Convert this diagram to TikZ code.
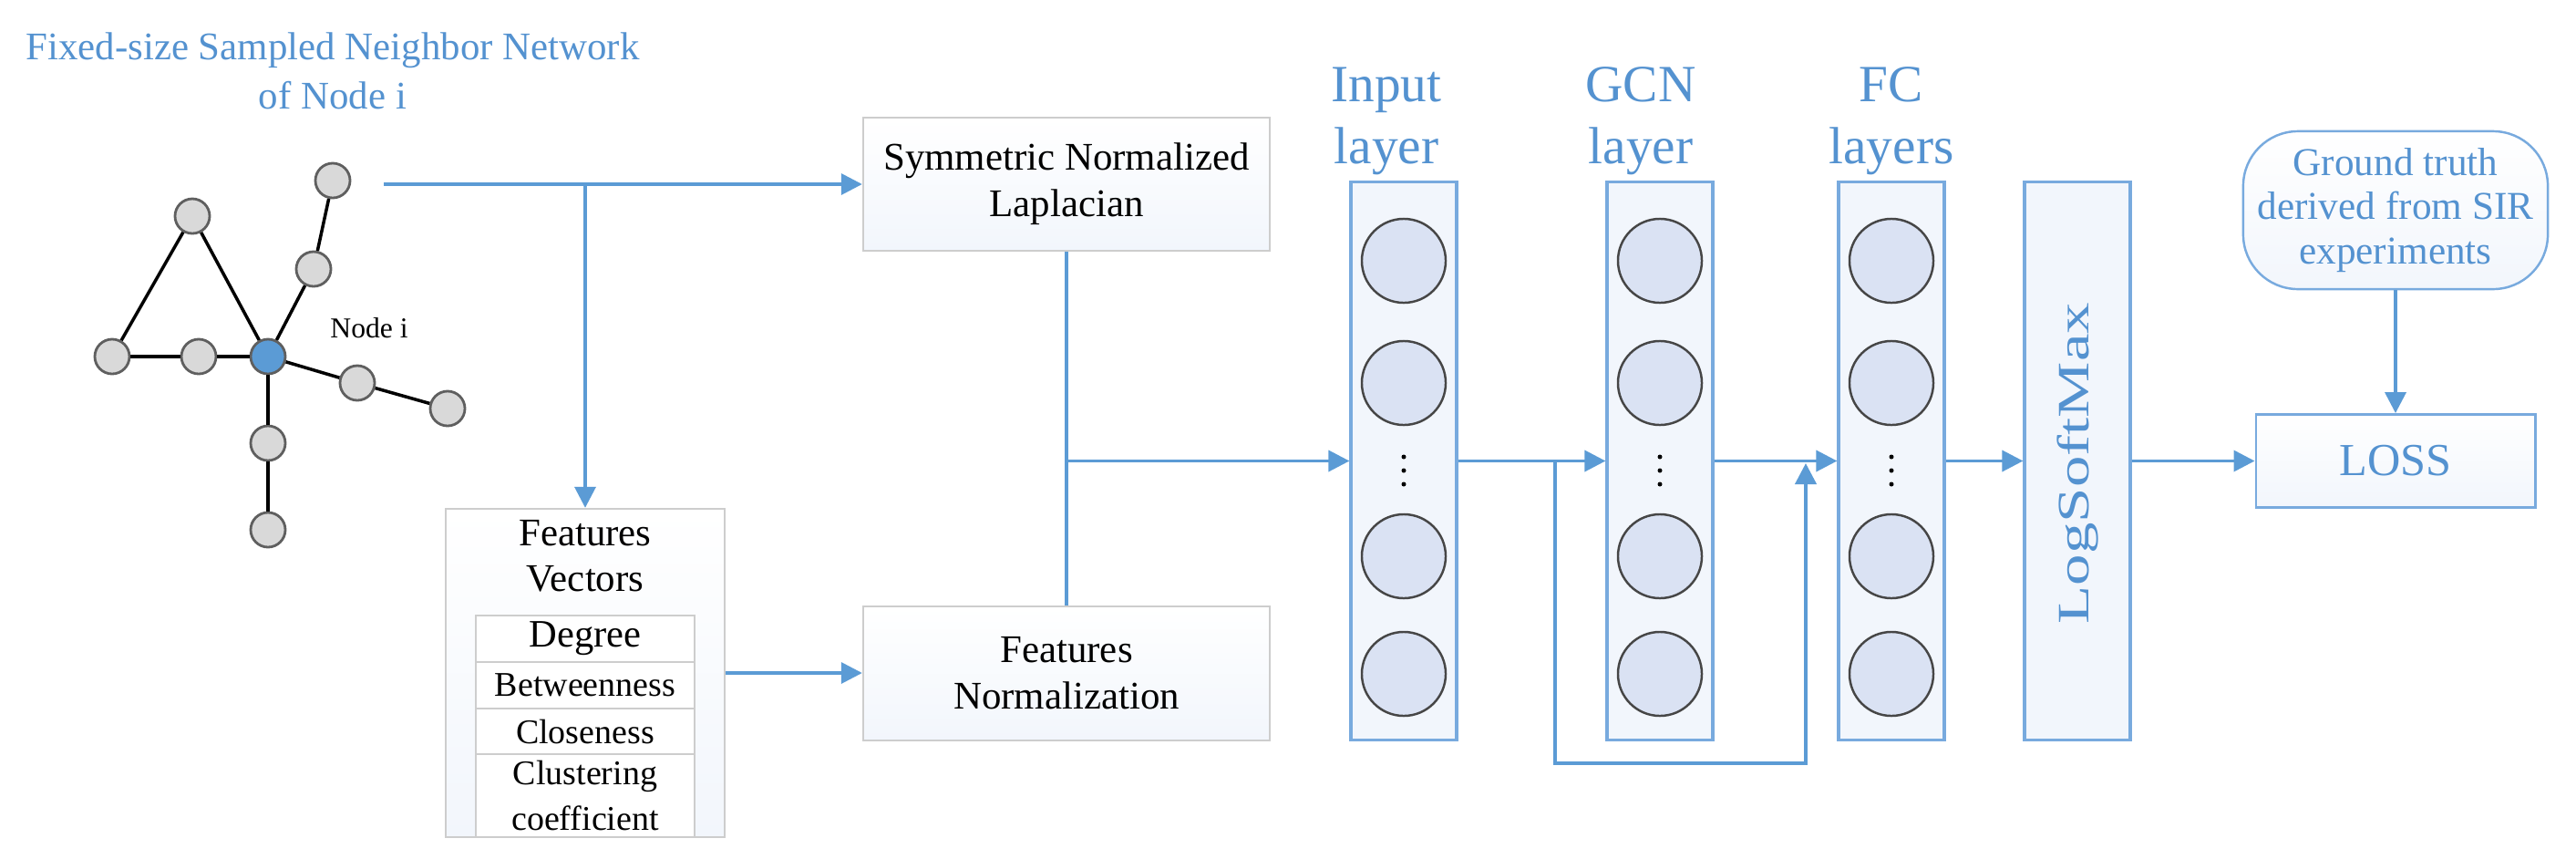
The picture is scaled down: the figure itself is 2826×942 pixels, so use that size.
\documentclass[tikz,border=0pt]{standalone}
\usepackage{fontspec}
\setmainfont{Liberation Serif}
\usepackage{graphicx}
\usetikzlibrary{arrows.meta}

\definecolor{lineblue}{RGB}{91,155,213}
\definecolor{textblue}{RGB}{84,146,208}
\definecolor{frameblue}{RGB}{120,170,222}
\definecolor{layerfill}{RGB}{242,246,252}
\definecolor{unitfill}{RGB}{218,226,243}
\definecolor{unitdraw}{RGB}{70,70,70}
\definecolor{nodegray}{RGB}{217,217,217}
\definecolor{edgegray}{RGB}{95,95,95}
\definecolor{boxgray}{RGB}{205,205,205}

\tikzset{
  flow/.style={draw=lineblue, line width=1pt, -{Triangle[length=2.3mm,width=2.3mm]}},
  link/.style={draw=lineblue, line width=1pt},
  gnode/.style={circle, draw=edgegray, fill=nodegray, line width=0.8pt, minimum size=0.38cm, inner sep=0pt},
  gedge/.style={draw=black, line width=1pt},
  opbox/.style={rectangle, draw=boxgray, line width=0.6pt, top color=white, bottom color=layerfill,
    align=center, minimum width=4.46cm, font=\fontsize{12.2}{14.5}\selectfont},
  layerbox/.style={rectangle, draw=frameblue, line width=0.9pt, fill=layerfill,
    minimum width=1.16cm, minimum height=6.11cm},
  unit/.style={circle, draw=unitdraw, fill=unitfill, line width=0.7pt, minimum size=0.92cm, inner sep=0pt},
  layerlbl/.style={text=textblue, align=center, font=\fontsize{16.3}{19.3}\selectfont},
  rowbox/.style={rectangle, draw=boxgray, line width=0.6pt, fill=white, minimum width=2.4cm,
    inner sep=0pt, align=center, font=\fontsize{10.8}{14}\selectfont},
}

\begin{document}
\begin{tikzpicture}[x=0.01cm, y=-0.01cm]
  \useasboundingbox (0,0) rectangle (2826,942);

  % neighbour network
  \node[text=textblue, align=center, font=\fontsize{12.2}{15.3}\selectfont] (title) at (365,78)
    {Fixed-size Sampled Neighbor Network\\of Node i};
  \node[gnode] (top) at (365,198) {};
  \node[gnode] (apex) at (211,237) {};
  \node[gnode] (mid) at (344,295) {};
  \node[gnode] (left) at (123,391) {};
  \node[gnode] (left2) at (218,391) {};
  \node[gnode, fill=lineblue] (ni) at (294,391) {};
  \node[gnode] (r1) at (392,420) {};
  \node[gnode] (r2) at (491,448) {};
  \node[gnode] (d1) at (294,486) {};
  \node[gnode] (d2) at (294,581) {};
  \node[anchor=west, font=\fontsize{9}{10}\selectfont] (nilbl) at (350,360) {Node i};
  \draw[gedge] (apex) -- (left);
  \draw[gedge] (apex) -- (ni);
  \draw[gedge] (left) -- (left2) -- (ni);
  \draw[gedge] (ni) -- (mid) -- (top);
  \draw[gedge] (ni) -- (r1) -- (r2);
  \draw[gedge] (ni) -- (d1) -- (d2);

  % preprocessing boxes
  \node[opbox, minimum height=1.46cm] (sym) at (1170,202) {Symmetric Normalized\\Laplacian};
  \node[opbox, minimum height=1.47cm] (fnorm) at (1170,738.5) {Features\\Normalization};
  \node[rectangle, draw=boxgray, line width=0.6pt, top color=white, bottom color=layerfill,
    minimum width=3.06cm, minimum height=3.6cm] (fv) at (642,738) {};
  \node[align=center, font=\fontsize{12.2}{14.2}\selectfont] (fvtitle) at (642,610) {Features\\Vectors};
  \node[rowbox, minimum height=0.51cm, font=\fontsize{12.1}{14}\selectfont] (deg) at (642,700.5) {Degree};
  \node[rowbox, minimum height=0.51cm] (betw) at (642,751.5) {Betweenness};
  \node[rowbox, minimum height=0.50cm] (clos) at (642,802) {Closeness};
  \node[rowbox, minimum height=0.91cm] (clus) at (642,872.5) {Clustering\\coefficient};

  \coordinate (src) at (421,202);
  \coordinate (split) at (642,202);
  \draw[flow] (src) -- (sym.west);
  \draw[flow] (split) -- (fv.north);
  \draw[flow] (fv.east) -- (fnorm.west |- fv.east);
  \draw[link] (sym.south) -- (fnorm.north);

  % layers
  \foreach \nm/\x in {inl/1540, gcn/1821, fc/2075} {
    \node[layerbox] (\nm) at (\x,505.5) {};
    \foreach \k/\y in {1/286, 2/420, 3/610, 4/739}
      \node[unit] (\nm-\k) at (\x,\y) {};
    \foreach \d in {501,516,531}
      \fill (\x,\d) circle (0.025cm);
  }
  \node[layerlbl] (inlbl) at (1521,133) {Input\\layer};
  \node[layerlbl] (gcnlbl) at (1800,133) {GCN\\layer};
  \node[layerlbl] (fclbl) at (2075,133) {FC\\layers};

  \node[layerbox] (lsm) at (2279,505.5) {};
  \node[rotate=90, text=textblue, font=\fontsize{14}{14}\selectfont] (lsmtxt) at (2279,508)
    {\scalebox{1.4}[1]{LogSoftMax}};

  % loss
  \node[rectangle, rounded corners=0.6cm, draw=frameblue, line width=0.7pt, top color=white,
    bottom color=layerfill, minimum width=3.34cm, minimum height=1.73cm, text=textblue,
    align=center, font=\fontsize{12.3}{13.8}\selectfont] (gt) at (2628,230.5)
    {Ground truth\\derived from SIR\\experiments};
  \node[rectangle, draw=frameblue, line width=0.8pt, top color=white, bottom color=layerfill,
    minimum width=3.06cm, minimum height=1.02cm, text=textblue,
    font=\fontsize{14.3}{16}\selectfont] (loss) at (2628,505.5) {LOSS};

  % connections
  \draw[flow] (sym.south |- inl.west) -- (inl.west);
  \draw[flow] (inl) -- (gcn);
  \draw[flow] (gcn) -- (fc);
  \draw[flow] (fc) -- (lsm);
  \draw[flow] (lsm) -- (loss);
  \draw[flow] (gt) -- (loss);
  \coordinate (skipa) at (1706,505.5);
  \coordinate (skipb) at (1981,508);
  \draw[flow, line width=1.15pt] (skipa) -- (1706,837) -| (skipb);
\end{tikzpicture}
\end{document}
